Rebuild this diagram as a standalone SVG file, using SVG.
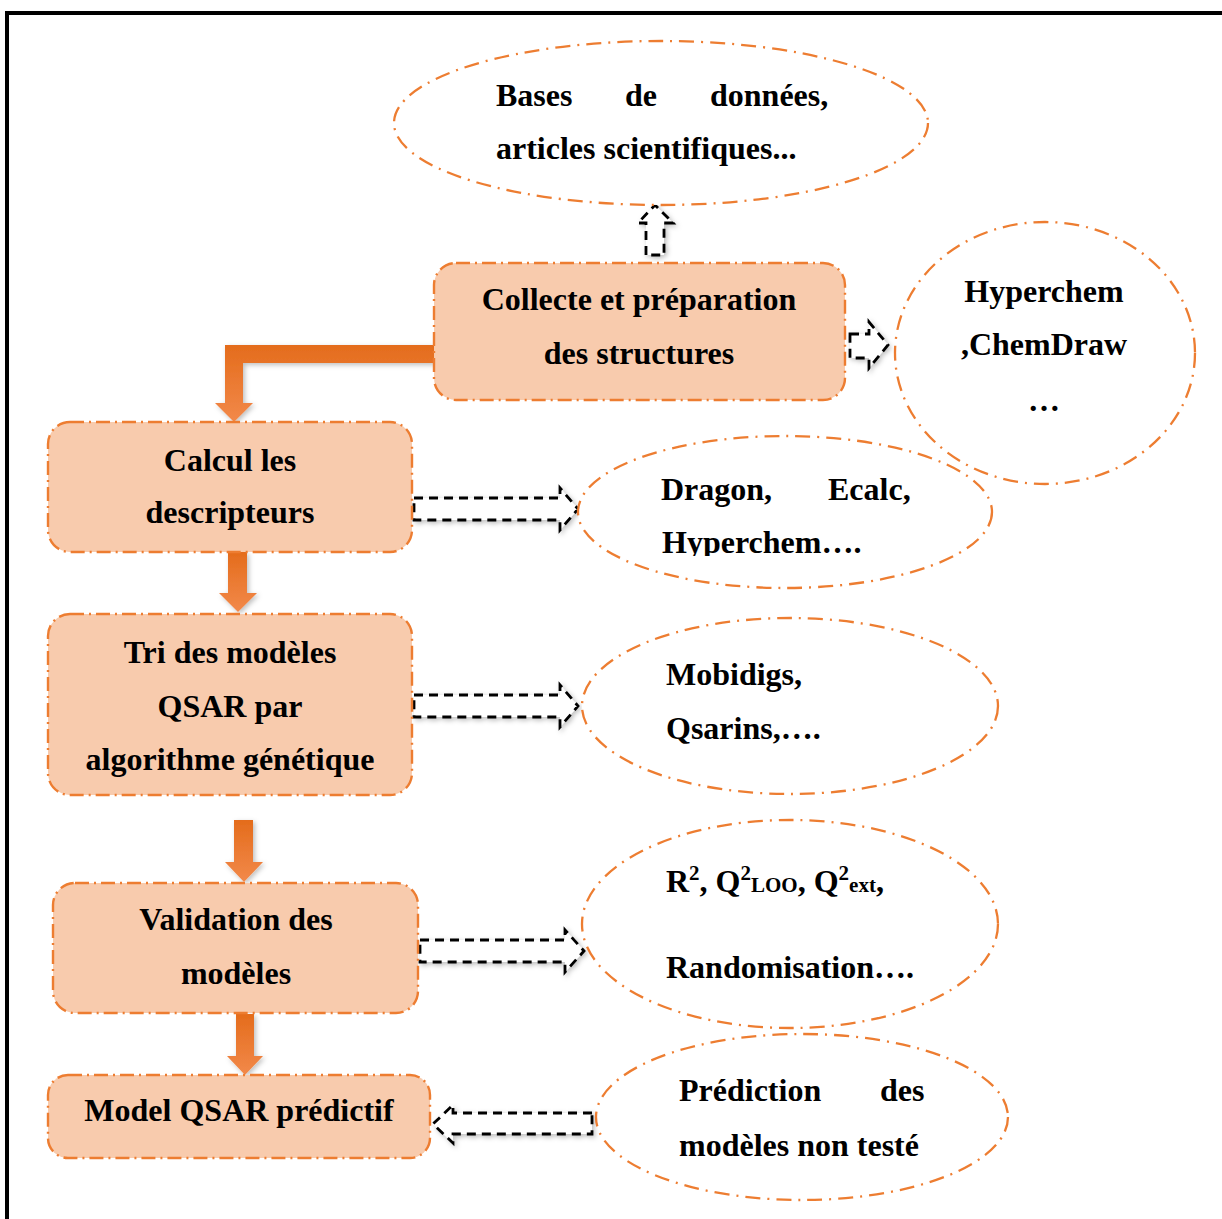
<svg xmlns="http://www.w3.org/2000/svg" width="1222" height="1219" viewBox="0 0 1222 1219">
<defs>
<style>
.box{fill:#F8CBAD;stroke:#ED7D31;stroke-width:2.4;stroke-dasharray:14 5 2 5}
.ell{fill:#fff;stroke:#ED7D31;stroke-width:2.3;stroke-dasharray:15 7 2 7}
.t{font-family:"Liberation Serif","Times New Roman",serif;font-weight:bold;font-size:32px;fill:#000}
.c{text-anchor:middle}
.da{fill:#fff;stroke:#000;stroke-width:2.8;stroke-dasharray:9 6;filter:url(#sh)}
.oa{fill:url(#og);filter:url(#sh)}
</style>
<linearGradient id="og" x1="0" y1="0" x2="0" y2="1">
<stop offset="0" stop-color="#E46C1C"/>
<stop offset="1" stop-color="#F2894A"/>
</linearGradient>
<filter id="sh" x="-30%" y="-30%" width="160%" height="160%">
<feDropShadow dx="2" dy="2" stdDeviation="2.5" flood-color="#000" flood-opacity="0.25"/>
</filter>
<clipPath id="clipC"><rect x="560" y="430" width="450" height="126"/></clipPath>
</defs>
<rect width="1222" height="1219" fill="#fff"/>
<path d="M7,1219 V13 H1222" fill="none" stroke="#000" stroke-width="4"/>

<g id="connectors">
<path class="oa" d="M434,345 H225 V403 H215 L234,422 L253,403 H243 V363 H434 Z"/>
<path class="oa" d="M228,552 V593 H219 L238,612 L257,593 H247 V552 Z"/>
<path class="oa" d="M234,820 V862 H225 L244,882 L263,862 H253 V820 Z"/>
<path class="oa" d="M236,1014 V1056 H227 L245,1075 L263,1056 H254 V1014 Z"/>
<path class="da" d="M646,255 V223 H638 L655,205 L673,223 H664 V255 Z"/>
<path class="da" d="M850,334 H869 V322 L888,345 L869,368 V358 H850 Z"/>
<path class="da" d="M414,498 H560 V488 L578,509 L560,530 V520 H414 Z"/>
<path class="da" d="M414,695 H560 V685 L578,706 L560,727 V717 H414 Z"/>
<path class="da" d="M420,940 H565 V930 L584,951 L565,972 V962 H420 Z"/>
<path class="da" d="M592,1113 H453 V1105 L433,1124 L453,1143 V1134 H592 Z"/>
</g>

<g id="n-bases">
<ellipse class="ell" cx="661" cy="123" rx="267" ry="82"/>
<text class="t" x="496" y="106">Bases</text>
<text class="t" x="625" y="106">de</text>
<text class="t" x="710" y="106">données,</text>
<text class="t" x="496" y="159">articles scientifiques...</text>
</g>

<g id="n-collecte">
<rect class="box" x="434" y="263" width="411" height="137" rx="22"/>
<text class="t c" x="639" y="310">Collecte et préparation</text>
<text class="t c" x="639" y="364">des structures</text>
</g>

<g id="n-hyperchem">
<ellipse class="ell" cx="1045" cy="353" rx="150" ry="131"/>
<text class="t c" x="1044" y="302">Hyperchem</text>
<text class="t c" x="1044" y="355">,ChemDraw</text>
<text class="t c" x="1044" y="411">…</text>
</g>

<g id="n-calcul">
<rect class="box" x="48" y="422" width="364" height="130" rx="22"/>
<text class="t c" x="230" y="471">Calcul les</text>
<text class="t c" x="230" y="523">descripteurs</text>
</g>

<g id="n-dragon">
<ellipse class="ell" cx="785" cy="512" rx="207" ry="76"/>
<text class="t" x="661" y="500">Dragon,</text>
<text class="t" x="828" y="500">Ecalc,</text>
<text class="t" x="662" y="553" clip-path="url(#clipC)">Hyperchem….</text>
</g>

<g id="n-tri">
<rect class="box" x="48" y="614" width="364" height="181" rx="22"/>
<text class="t c" x="230" y="663">Tri des modèles</text>
<text class="t c" x="230" y="717">QSAR par</text>
<text class="t c" x="230" y="770">algorithme génétique</text>
</g>

<g id="n-mobidigs">
<ellipse class="ell" cx="790" cy="706" rx="208" ry="88"/>
<text class="t" x="666" y="685">Mobidigs,</text>
<text class="t" x="666" y="739">Qsarins,….</text>
</g>

<g id="n-validation">
<rect class="box" x="53" y="883" width="365" height="130" rx="22"/>
<text class="t c" x="236" y="930">Validation des</text>
<text class="t c" x="236" y="984">modèles</text>
</g>

<g id="n-metrics">
<ellipse class="ell" cx="790" cy="924" rx="208" ry="104"/>
<text class="t" x="666" y="892">R<tspan font-size="21" dy="-12">2</tspan><tspan dy="12">, Q</tspan><tspan font-size="21" dy="-12">2</tspan><tspan font-size="21" dy="12">LOO</tspan>, Q<tspan font-size="21" dy="-12">2</tspan><tspan font-size="21" dy="12">ext</tspan>,</text>
<text class="t" x="666" y="978">Randomisation….</text>
</g>

<g id="n-model">
<rect class="box" x="48" y="1075" width="382" height="83" rx="20"/>
<text class="t c" x="239" y="1121">Model QSAR prédictif</text>
</g>

<g id="n-prediction">
<ellipse class="ell" cx="802" cy="1117" rx="206" ry="83"/>
<text class="t" x="679" y="1101">Prédiction</text>
<text class="t" x="880" y="1101">des</text>
<text class="t" x="679" y="1156">modèles non testé</text>
</g>
</svg>
